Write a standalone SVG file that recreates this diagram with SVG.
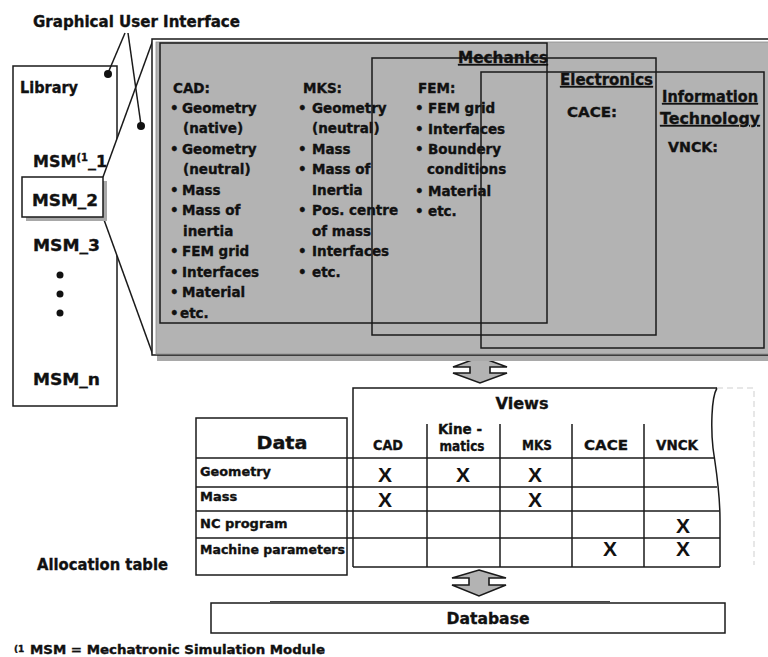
<svg xmlns="http://www.w3.org/2000/svg" width="768" height="657" viewBox="0 0 768 657">
<style>
.t{font-family:"DejaVu Sans","Liberation Sans",Arial,sans-serif;font-weight:bold;fill:#111;stroke:#111;stroke-width:0.35}
.b{font-size:13.5px}
.hd{font-size:15px;text-decoration:underline}
.c{text-anchor:middle}
.ln{stroke:#1a1a1a;stroke-width:1.5;fill:none}
.lw{stroke:#1a1a1a;stroke-width:1.5;fill:#fff}
.x{font-family:"Liberation Sans",Arial,sans-serif;font-weight:bold;font-size:21px;fill:#111;text-anchor:middle}
.arrow{fill:#b3b3b3;stroke:#1a1a1a;stroke-width:1.6;stroke-linejoin:miter}
.faint{stroke:#cfcfcf;stroke-width:1;fill:none;stroke-dasharray:6 4}
</style>
<rect width="768" height="657" fill="#fff"/>

<g id="gui-label">
<text class="t" x="33" y="27" font-size="15" textLength="207" lengthAdjust="spacingAndGlyphs">Graphical User Interface</text>
</g>

<g id="library">
<rect x="13" y="66" width="104" height="340" class="lw"/>
<text class="t" x="20" y="93" font-size="15" textLength="58" lengthAdjust="spacingAndGlyphs">Library</text>
<text class="t" x="33" y="167" font-size="16">MSM<tspan font-size="10" dy="-6">(1</tspan><tspan dy="6">_1</tspan></text>
<text class="t" x="33" y="251" font-size="16" textLength="67" lengthAdjust="spacingAndGlyphs">MSM_3</text>
<circle cx="60" cy="275" r="3.5" fill="#111"/>
<circle cx="60" cy="294" r="3.5" fill="#111"/>
<circle cx="60" cy="313" r="3.5" fill="#111"/>
<text class="t" x="33" y="385" font-size="16" textLength="67" lengthAdjust="spacingAndGlyphs">MSM_n</text>
</g>

<g id="connectors">
<polygon points="103,177 153,40 153,355 103,217" fill="#fff"/>
<line class="ln" x1="103" y1="177" x2="153" y2="40" stroke-width="2"/>
<line class="ln" x1="103" y1="217" x2="153" y2="355" stroke-width="2"/>
<line class="ln" x1="125" y1="33" x2="108" y2="73" stroke-width="2"/>
<line class="ln" x1="128" y1="33" x2="141" y2="125" stroke-width="2"/>
<circle cx="108" cy="74" r="4" fill="#111"/>
<circle cx="141" cy="126" r="4" fill="#111"/>
<polygon class="arrow" points="480,357 507,367 490,367 490,373 507,373 480,383 453,373 470,373 470,367 453,367"/>
<polygon class="arrow" points="479,570 506,578 489,578 489,585 506,585 479,596 452,585 469,585 469,578 452,578"/>
</g>

<g id="msm2">
<rect x="26" y="181" width="81" height="40" fill="#a8a8a8"/>
<rect x="22" y="177" width="81" height="40" class="lw"/>
<text class="t" x="32" y="206" font-size="16" textLength="66" lengthAdjust="spacingAndGlyphs">MSM_2</text>
</g>

<g id="panel">
<rect x="157" y="44" width="620" height="317" fill="#a9a9a9"/>
<rect x="152" y="39" width="625" height="316" fill="#fff" stroke="#1a1a1a" stroke-width="1.5"/>
<rect x="156" y="42" width="620" height="312" fill="#b3b3b3" stroke="#8c8c8c" stroke-width="0.8"/>

<g id="cad-list">
<text class="t b" x="173" y="93">CAD:</text>
<text class="t b" x="170" y="113">•<tspan x="182">Geometry</tspan></text>
<text class="t b" x="183" y="133">(native)</text>
<text class="t b" x="170" y="154">•<tspan x="182">Geometry</tspan></text>
<text class="t b" x="183" y="174">(neutral)</text>
<text class="t b" x="170" y="195">•<tspan x="182">Mass</tspan></text>
<text class="t b" x="170" y="215">•<tspan x="182">Mass of</tspan></text>
<text class="t b" x="183" y="236">inertia</text>
<text class="t b" x="170" y="256">•<tspan x="182">FEM grid</tspan></text>
<text class="t b" x="170" y="277">•<tspan x="182">Interfaces</tspan></text>
<text class="t b" x="170" y="297">•<tspan x="182">Material</tspan></text>
<text class="t b" x="170" y="318">•<tspan x="180">etc.</tspan></text>
</g>
<g id="mks-list">
<text class="t b" x="303" y="93">MKS:</text>
<text class="t b" x="298" y="113">•<tspan x="312">Geometry</tspan></text>
<text class="t b" x="312" y="133">(neutral)</text>
<text class="t b" x="298" y="154">•<tspan x="312">Mass</tspan></text>
<text class="t b" x="298" y="174">•<tspan x="312">Mass of</tspan></text>
<text class="t b" x="312" y="195">Inertia</text>
<text class="t b" x="298" y="215">•<tspan x="312">Pos. centre</tspan></text>
<text class="t b" x="312" y="236">of mass</text>
<text class="t b" x="298" y="256">•<tspan x="312">Interfaces</tspan></text>
<text class="t b" x="298" y="277">•<tspan x="312">etc.</tspan></text>
</g>
<g id="fem-list">
<text class="t b" x="418" y="93">FEM:</text>
<text class="t b" x="415" y="113">•<tspan x="428">FEM grid</tspan></text>
<text class="t b" x="415" y="134">•<tspan x="428">Interfaces</tspan></text>
<text class="t b" x="415" y="154">•<tspan x="428">Boundery</tspan></text>
<text class="t b" x="427" y="174">conditions</text>
<text class="t b" x="415" y="196">•<tspan x="428">Material</tspan></text>
<text class="t b" x="415" y="216">•<tspan x="428">etc.</tspan></text>
</g>

<rect id="box-mechanics" x="160" y="43" width="387" height="280" class="ln"/>
<rect id="box-electronics" x="372" y="58" width="284" height="277" class="ln"/>
<rect id="box-it" x="481" y="72" width="283" height="276" class="ln"/>

<text class="t hd" x="458" y="63" textLength="90" lengthAdjust="spacingAndGlyphs">Mechanics</text>
<text class="t hd" x="560" y="85" textLength="93" lengthAdjust="spacingAndGlyphs">Electronics</text>
<text class="t b" x="567" y="117" textLength="50" lengthAdjust="spacingAndGlyphs">CACE:</text>
<text class="t hd" x="662" y="102" textLength="96" lengthAdjust="spacingAndGlyphs">Information</text>
<text class="t hd" x="660" y="124" textLength="100" lengthAdjust="spacingAndGlyphs">Technology</text>
<text class="t b" x="668" y="152" textLength="50" lengthAdjust="spacingAndGlyphs">VNCK:</text>
</g>

<g id="data-table">
<rect x="196" y="418" width="151" height="157" class="lw"/>
<text class="t c" x="282" y="449" font-size="18" textLength="51" lengthAdjust="spacingAndGlyphs">Data</text>
<text class="t" x="200" y="476" font-size="13" textLength="71" lengthAdjust="spacingAndGlyphs">Geometry</text>
<text class="t" x="200" y="501" font-size="13">Mass</text>
<text class="t" x="200" y="528" font-size="13">NC program</text>
<text class="t" x="200" y="554" font-size="13" textLength="145" lengthAdjust="spacingAndGlyphs">Machine parameters</text>
</g>

<g id="views-table">
<path class="ln" d="M353,567 L353,388 L717,388"/>
<path class="ln" d="M717,388 C711,398 711,430 713,448 C716,470 720,490 720,520 L720,567"/>
<path class="faint" d="M717,388 L754,388 L754,565"/>
<line class="ln" x1="196" y1="458" x2="715" y2="458"/>
<line class="ln" x1="196" y1="487" x2="717" y2="487"/>
<line class="ln" x1="196" y1="511" x2="719" y2="511"/>
<line class="ln" x1="196" y1="538" x2="720" y2="538"/>
<line class="ln" x1="353" y1="567" x2="720" y2="567"/>
<line class="ln" x1="427" y1="424" x2="427" y2="567"/>
<line class="ln" x1="500" y1="424" x2="500" y2="567"/>
<line class="ln" x1="572" y1="424" x2="572" y2="567"/>
<line class="ln" x1="644" y1="424" x2="644" y2="567"/>
<text class="t c" x="522" y="409" font-size="16" textLength="53" lengthAdjust="spacingAndGlyphs">Views</text>
<text class="t c" x="388" y="450" font-size="13.5" textLength="30" lengthAdjust="spacingAndGlyphs">CAD</text>
<text class="t c" x="460" y="434" font-size="13.5">Kine -</text>
<text class="t c" x="462" y="451" font-size="13.5" textLength="45" lengthAdjust="spacingAndGlyphs">matics</text>
<text class="t c" x="537" y="450" font-size="13.5" textLength="30" lengthAdjust="spacingAndGlyphs">MKS</text>
<text class="t c" x="606" y="450" font-size="13.5" textLength="44" lengthAdjust="spacingAndGlyphs">CACE</text>
<text class="t c" x="677" y="450" font-size="13.5" textLength="42" lengthAdjust="spacingAndGlyphs">VNCK</text>
<text class="x" x="385" y="482">X</text>
<text class="x" x="463" y="482">X</text>
<text class="x" x="535" y="482">X</text>
<text class="x" x="385" y="507">X</text>
<text class="x" x="535" y="507">X</text>
<text class="x" x="683" y="533">X</text>
<text class="x" x="610" y="556">X</text>
<text class="x" x="683" y="556">X</text>
</g>

<g id="database">
<rect x="211" y="603" width="514" height="30" class="lw"/>
<line x1="270" y1="601.5" x2="610" y2="601.5" stroke="#444" stroke-width="1"/>
<text class="t c" x="488" y="624" font-size="16" textLength="83" lengthAdjust="spacingAndGlyphs">Database</text>
</g>

<g id="labels">
<text class="t" x="37" y="570" font-size="16" textLength="131" lengthAdjust="spacingAndGlyphs">Allocation table</text>
<text class="t" x="14" y="654"><tspan font-size="9" dy="-2">(1</tspan><tspan x="30" dy="2" font-size="11.5" textLength="295" lengthAdjust="spacingAndGlyphs">MSM =  Mechatronic  Simulation Module</tspan></text>
</g>
</svg>
